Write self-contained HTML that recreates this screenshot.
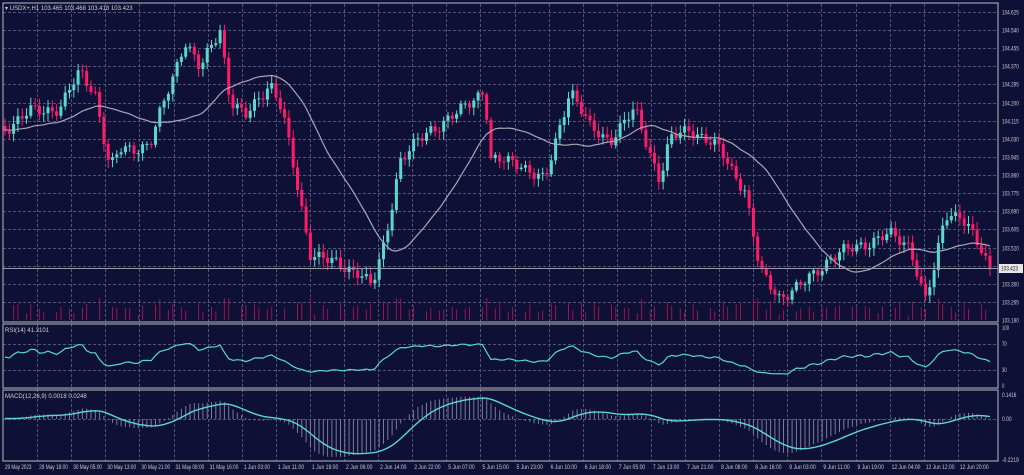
<!DOCTYPE html>
<html><head><meta charset="utf-8"><style>
html,body{margin:0;padding:0;background:#0f1035;width:1024px;height:475px;overflow:hidden}
svg{display:block;font-family:"Liberation Sans",sans-serif}
</style></head><body>
<svg id="s" width="1024" height="475" xmlns="http://www.w3.org/2000/svg"></svg>
<script>
const S=document.getElementById('s');
let h='';
const L=3,R=998;
h+='<rect x="0" y="0" width="1024" height="475" fill="#0f1035"/>';
function panel(y1,y2){h+=`<rect x="${L}" y="${y1}" width="${R-L}" height="${y2-y1}" fill="none" stroke="#b8b8c0" stroke-width="1"/>`;}
const labels=["29 May 2023","29 May 18:00","30 May 05:00","30 May 13:00","30 May 21:00","31 May 08:00","31 May 16:00","1 Jun 03:00","1 Jun 11:00","1 Jun 19:00","2 Jun 06:00","2 Jun 14:00","2 Jun 22:00","5 Jun 07:00","5 Jun 15:00","5 Jun 23:00","6 Jun 10:00","6 Jun 18:00","7 Jun 05:00","7 Jun 13:00","7 Jun 21:00","8 Jun 08:00","8 Jun 16:00","9 Jun 03:00","9 Jun 11:00","9 Jun 19:00","12 Jun 04:00","12 Jun 12:00","12 Jun 20:00"];
const dash='stroke="#50547a" stroke-width="1" stroke-dasharray="3,2"';
for(let i=1;i<labels.length;i++){const x=Math.round(3+i*34.1)+.5;
 h+=`<line x1="${x}" y1="4" x2="${x}" y2="461" ${dash}/>`;}
for(let i=0;i<labels.length;i++){const x=3+i*34.1;const w=labels[i].length*2.4;
 h+=`<text x="${x+2}" y="469" font-size="6" fill="#c8c8d0" textLength="${w.toFixed(1)}" lengthAdjust="spacingAndGlyphs">${labels[i]}</text>`;}
const prices=["104.625","104.540","104.455","104.370","104.285","104.200","104.115","104.030","103.945","103.860","103.775","103.690","103.605","103.520","","103.350","103.265","103.180"];
function rl(x,y,t){return `<text x="${x}" y="${y}" font-size="6" fill="#c8c8d0" textLength="${(t.length*2.4).toFixed(1)}" lengthAdjust="spacingAndGlyphs">${t}</text>`;}
for(let i=0;i<18;i++){const y=Math.round(12+i*18.12)+.5;
 if(i<17)h+=`<line x1="${L}" y1="${y}" x2="${R}" y2="${y}" ${dash}/>`;
 if(prices[i])h+=rl(1002,y+2,prices[i]);}
[[344,"70"],[370,"30"]].forEach(a=>{h+=`<line x1="${L}" y1="${a[0]+.5}" x2="${R}" y2="${a[0]+.5}" ${dash}/>`+rl(1002,a[0]+2,a[1]);});
h+=rl(1002,330,"100")+rl(1002,388,"0");
h+=`<line x1="${L}" y1="419.5" x2="${R}" y2="419.5" ${dash}/>`;
h+=rl(1002,397,"0.1416")+rl(1002,421,"0.00")+rl(1002,462,"-0.2219");
const kp=[[3,130],[30,112],[60,108],[80,72],[95,92],[110,170],[120,150],[150,145],[165,100],[185,40],[200,70],[220,28],[230,100],[245,118],[270,82],[282,110],[300,200],[310,252],[330,262],[360,272],[372,288],[385,242],[400,160],[430,130],[460,112],[485,88],[490,160],[520,163],[545,182],[570,88],[590,128],[610,140],[635,110],[660,180],[670,140],[690,128],[720,150],[745,190],[760,272],[780,297],[800,287],[830,258],[860,245],[890,235],[910,245],[925,302],[935,268],[945,213],[960,215],[975,240],[990,268]];
function interp(x){if(x<=kp[0][0])return kp[0][1];for(let i=0;i<kp.length-1;i++){if(x>=kp[i][0]&&x<=kp[i+1][0]){const t=(x-kp[i][0])/(kp[i+1][0]-kp[i][0]);return kp[i][1]+t*(kp[i+1][1]-kp[i][1]);}}return kp[kp.length-1][1];}
const N=230,dx=(990-5)/(N-1),W=40;
let closes=[],xs=[];
for(let i=-W;i<N;i++){const x=5+i*dx;xs.push(x);closes.push(interp(x)+5*Math.sin(i*1.7)+3*Math.sin(i*0.63+1));}
const T=closes.length;
let ma=[];for(let i=0;i<T;i++){let s=0,c=0;for(let j=Math.max(0,i-23);j<=i;j++){s+=closes[j];c++;}ma.push(s/c);}
for(let i=W;i<T;i++){if(Math.sin(i*1.9)>0.3)continue;const v=4+Math.abs(Math.sin(i*2.3))*8+Math.abs(closes[i]-closes[i-1])*0.5;
 h+=`<line x1="${xs[i].toFixed(1)}" y1="320" x2="${xs[i].toFixed(1)}" y2="${(320-Math.min(v,22)).toFixed(1)}" stroke="#9c1450" stroke-width="1"/>`;}
for(let i=W;i<T;i++){const o=closes[i-1],c=closes[i];const bull=c<o;const col=bull?"#5ad8d0":"#ff1b6b";
 const top=Math.min(o,c)-2-Math.abs(Math.sin(i*3.1))*6,bot=Math.max(o,c)+2+Math.abs(Math.cos(i*2.7))*6;
 const x=xs[i];
 h+=`<line x1="${x.toFixed(1)}" y1="${top.toFixed(1)}" x2="${x.toFixed(1)}" y2="${bot.toFixed(1)}" stroke="${col}" stroke-width="1"/>`;
 h+=`<rect x="${(x-1.5).toFixed(1)}" y="${Math.min(o,c).toFixed(1)}" width="3" height="${Math.max(1,Math.abs(o-c)).toFixed(1)}" fill="${col}"/>`;}
h+=`<polyline fill="none" stroke="#a8a8b4" stroke-width="1.2" points="${ma.slice(W).map((m,i)=>xs[i+W].toFixed(1)+','+m.toFixed(1)).join(' ')}"/>`;
h+=`<line x1="${L}" y1="268.5" x2="${R}" y2="268.5" stroke="#9a9aa8" stroke-width="1"/><rect x="999" y="264" width="24" height="9" fill="#e8e8e8"/>`+`<text x="1001" y="270.5" font-size="6" fill="#222" textLength="17" lengthAdjust="spacingAndGlyphs">103.423</text>`;
let rsi=[50],ag=1,al=1;
for(let i=1;i<T;i++){const d=closes[i-1]-closes[i];const g=Math.max(d,0),l=Math.max(-d,0);
 ag=(ag*13+g)/14;al=(al*13+l)/14;rsi.push(100-100/(1+ag/al));}
h+=`<polyline fill="none" stroke="#5ad8d0" stroke-width="1.2" points="${rsi.slice(W).map((r,i)=>xs[i+W].toFixed(1)+','+(386-(50+(r-50)*0.8)*0.59).toFixed(1)).join(' ')}"/>`;
const pr=closes.map(c=>-c);
function ema(a,n){const k=2/(n+1);let o=[a[0]];for(let i=1;i<a.length;i++)o.push(a[i]*k+o[i-1]*(1-k));return o;}
const e12=ema(pr,12),e26=ema(pr,26);const m=e12.map((v,i)=>v-e26[i]);const sg=ema(m,9);
let mx=Math.max(...m.slice(W).map(Math.abs));const sc=38/mx;
for(let i=W;i<T;i++){const y=419-m[i]*sc;h+=`<line x1="${xs[i].toFixed(1)}" y1="419" x2="${xs[i].toFixed(1)}" y2="${y.toFixed(1)}" stroke="#7a7c98" stroke-width="1"/>`;}
h+=`<polyline fill="none" stroke="#5ad8d0" stroke-width="1.4" points="${sg.slice(W).map((v,i)=>xs[i+W].toFixed(1)+','+(419-v*sc).toFixed(1)).join(' ')}"/>`;
panel(3,322);panel(324,388);panel(390,461);
h+=`<text x="5" y="10" font-size="6" fill="#d0d0d8">▾ USDX+,H1  103.465 103.468 103.418 103.423</text>`;
h+=`<text x="5" y="332" font-size="6" fill="#d0d0d8">RSI(14) 41.3101</text>`;
h+=`<text x="5" y="398" font-size="6" fill="#d0d0d8">MACD(12,26,9) 0.0018 0.0248</text>`;
S.innerHTML=h;
</script>
</body></html>
